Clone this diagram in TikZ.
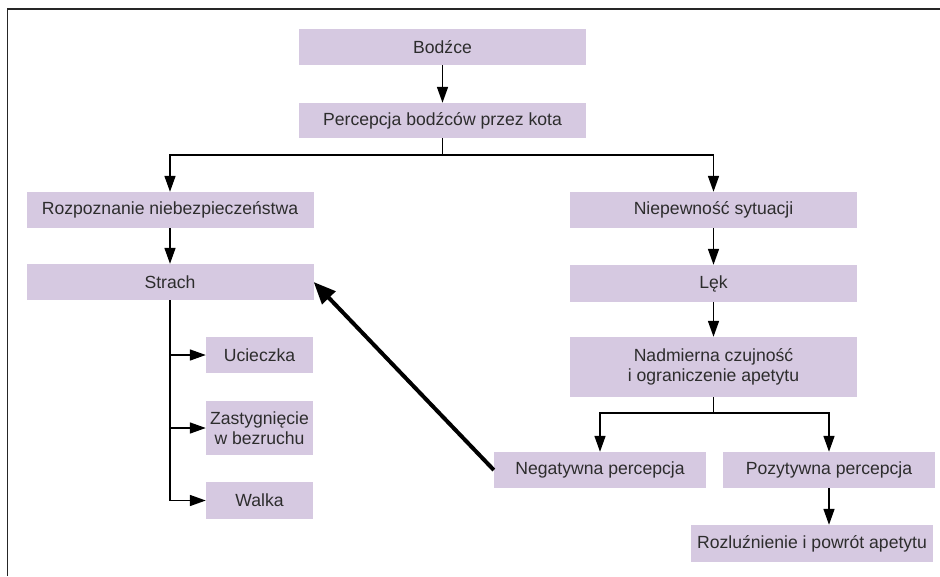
\documentclass[tikz,border=0pt]{standalone}
\usepackage{fontspec}
\setmainfont{Liberation Sans}
\usetikzlibrary{arrows.meta}

\definecolor{boxfill}{RGB}{214,201,225}
\definecolor{boxtext}{RGB}{45,45,45}

\begin{document}
\begin{tikzpicture}[x=1pt,y=-1pt]
\tikzstyle{box}=[rectangle, fill=boxfill, text=boxtext, inner sep=0pt, align=center,
	font=\fontsize{17.6}{19.5}\selectfont]
\tikzstyle{wide}=[box, minimum width=287pt, minimum height=36pt]
\tikzstyle{small}=[box, minimum width=107pt, minimum height=36pt]
\tikzstyle{half}=[box, minimum width=212pt, minimum height=36pt]
\tikzstyle{arr}=[line width=1.6pt, -{Triangle[length=16pt,width=11pt]}]
\tikzstyle{line}=[line width=1.6pt]
\tikzstyle{bigarr}=[line width=4pt, -{Triangle[length=22pt,width=18pt]}]

\useasboundingbox (0,0) rectangle (940,576);
\draw[line width=1.8pt, black!85] (7.5,576) -- (7.5,9) -- (940,9);

% top
\node[wide] (bodzce) at (442.5,47) {Bodźce};
\node[wide, minimum height=35pt] (percepcja) at (442.5,120.5) {Percepcja bodźców przez kota};
\coordinate (split1) at (442.5,155);

% left branch
\node[wide] (rozpoznanie) at (170,210) {Rozpoznanie niebezpieczeństwa};
\node[wide] (strach) at (170,282) {Strach};
\node[small] (ucieczka) at (259.5,355) {Ucieczka};
\node[small, minimum height=54pt] (zastygniecie) at (259.5,428) {Zastygnięcie\\w bezruchu};
\node[small, minimum height=37pt] (walka) at (259.5,500.5) {Walka};

% right branch
\node[wide] (niepewnosc) at (713.5,210) {Niepewność sytuacji};
\node[wide, minimum height=37pt] (lek) at (713.5,283.5) {Lęk};
\node[wide, minimum height=60pt] (nadmierna) at (713.5,367) {Nadmierna czujność\\i ograniczenie apetytu};
\coordinate (split2) at (713.5,413);
\node[half] (negatywna) at (600,470) {Negatywna percepcja};
\node[half] (pozytywna) at (829,470) {Pozytywna percepcja};
\node[box, minimum width=242pt, minimum height=37pt] (rozluznienie) at (812,543.5) {Rozluźnienie i powrót apetytu};

% connectors
\draw[arr] (bodzce) -- (percepcja);
\draw[line] (percepcja) -- (split1);
\draw[arr] (split1) -| (rozpoznanie);
\draw[arr] (split1) -| (niepewnosc);
\draw[arr] (rozpoznanie) -- (strach);
\draw[arr] (strach.south) |- (ucieczka.west);
\draw[arr] (strach.south) |- (zastygniecie.west);
\draw[arr] (strach.south) |- (walka.west);
\draw[arr] (niepewnosc) -- (lek);
\draw[arr] (lek) -- (nadmierna);
\draw[line] (nadmierna) -- (split2);
\draw[arr] (split2) -| (negatywna);
\draw[arr] (split2) -| (pozytywna);
\draw[arr] (pozytywna.south) -- (pozytywna.south |- rozluznienie.north);
\draw[bigarr] (negatywna.west) -- (strach.east);

\end{tikzpicture}
\end{document}
